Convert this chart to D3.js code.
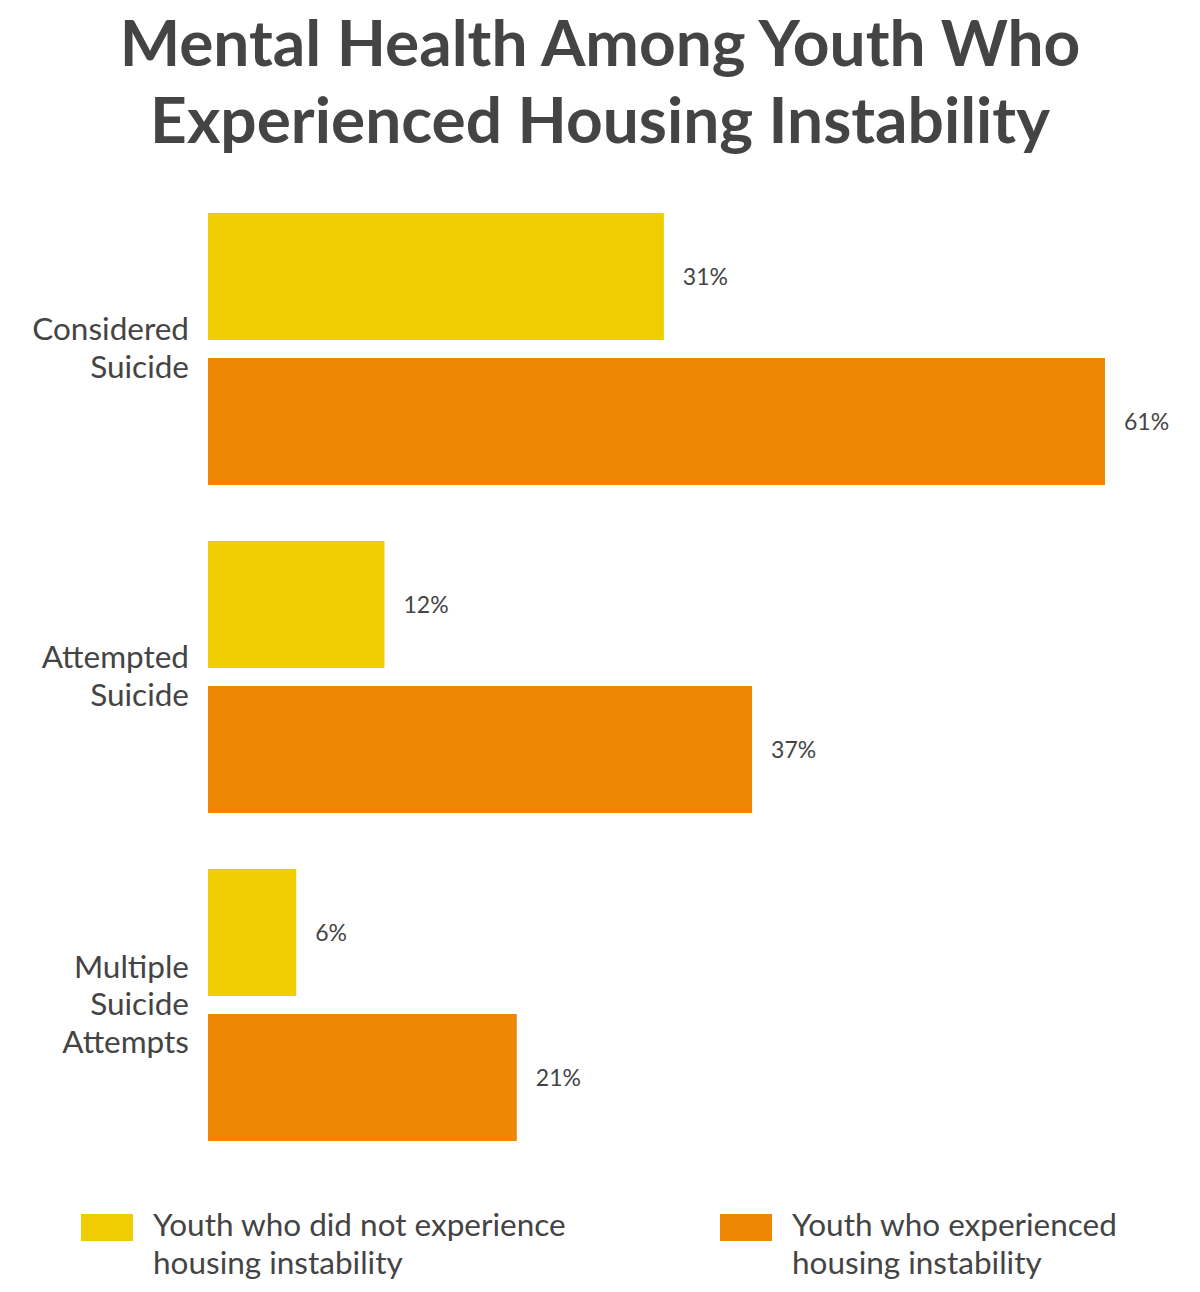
<!DOCTYPE html>
<html><head><meta charset="utf-8">
<script src="https://cdn.jsdelivr.net/npm/d3@7"></script>
<style>body{margin:0;background:#fff}svg{display:block;font-family:Lato,sans-serif}</style>
</head><body>
<svg id="c" width="1200" height="1292"></svg>
<script>
const categories = ["Considered Suicide", "Attempted Suicide", "Multiple Suicide Attempts"];
const categoryLines = [["Considered", "Suicide"], ["Attempted", "Suicide"], ["Multiple", "Suicide", "Attempts"]];
const series = ["Youth who did not experience housing instability", "Youth who experienced housing instability"];
const seriesLines = [["Youth who did not experience", "housing instability"], ["Youth who experienced", "housing instability"]];
const notExperienced = [31, 12, 6];
const experienced = [61, 37, 21];
const colors = ["#F0CD00", "#EE8804"];
const titleLines = ["Mental Health Among Youth Who", "Experienced Housing Instability"];

const svg = d3.select("#c");
const textColor = "#444444";

svg.selectAll("text.title").data(titleLines).join("text")
  .attr("class","title")
  .attr("x", 600).attr("y", (d,i)=>66 + i*77)
  .attr("text-anchor","middle")
  .attr("font-size", 64).attr("font-weight", 700)
  .attr("fill", textColor).text(d=>d);

const x = d3.scaleLinear().domain([0, 61]).range([208, 1105]);
const y0 = d3.scaleBand().domain(categories).range([213, 1141]).paddingInner(56/328).paddingOuter(0);
const y1 = d3.scaleBand().domain(series).range([0, y0.bandwidth()]).paddingInner(18/145).paddingOuter(0);

const data = [];
categories.forEach((c, i) => {
  data.push({cat: c, s: series[0], v: notExperienced[i], k: 0});
  data.push({cat: c, s: series[1], v: experienced[i], k: 1});
});

svg.selectAll("rect.bar").data(data).join("rect")
  .attr("class","bar")
  .attr("x", x(0))
  .attr("y", d=>y0(d.cat)+y1(d.s))
  .attr("width", d=>x(d.v)-x(0))
  .attr("height", y1.bandwidth())
  .attr("fill", d=>colors[d.k]);

svg.selectAll("text.val").data(data).join("text")
  .attr("class","val")
  .attr("x", d=>x(d.v)+19)
  .attr("y", d=>y0(d.cat)+y1(d.s)+y1.bandwidth()/2+8)
  .attr("font-size", 23).attr("fill", textColor)
  .text(d=>d.v+"%");

categories.forEach((c, i) => {
  const lines = categoryLines[i];
  const center = y0(c) + y0.bandwidth()/2;
  svg.selectAll(null).data(lines).join("text")
    .attr("x", 189)
    .attr("y", (d,j)=>center + (j-(lines.length-1)/2)*37.5 + 10)
    .attr("text-anchor","end")
    .attr("font-size", 31.5).attr("fill", textColor)
    .text(d=>d);
});

const legX = [81, 720];
series.forEach((s, i) => {
  svg.append("rect").attr("x", legX[i]).attr("y", 1214).attr("width", 52).attr("height", 27).attr("fill", colors[i]);
  svg.selectAll(null).data(seriesLines[i]).join("text")
    .attr("x", legX[i]+72).attr("y", (d,j)=>1236 + j*37.5)
    .attr("font-size", 31.5).attr("fill", textColor).text(d=>d);
});
</script>
</body></html>
